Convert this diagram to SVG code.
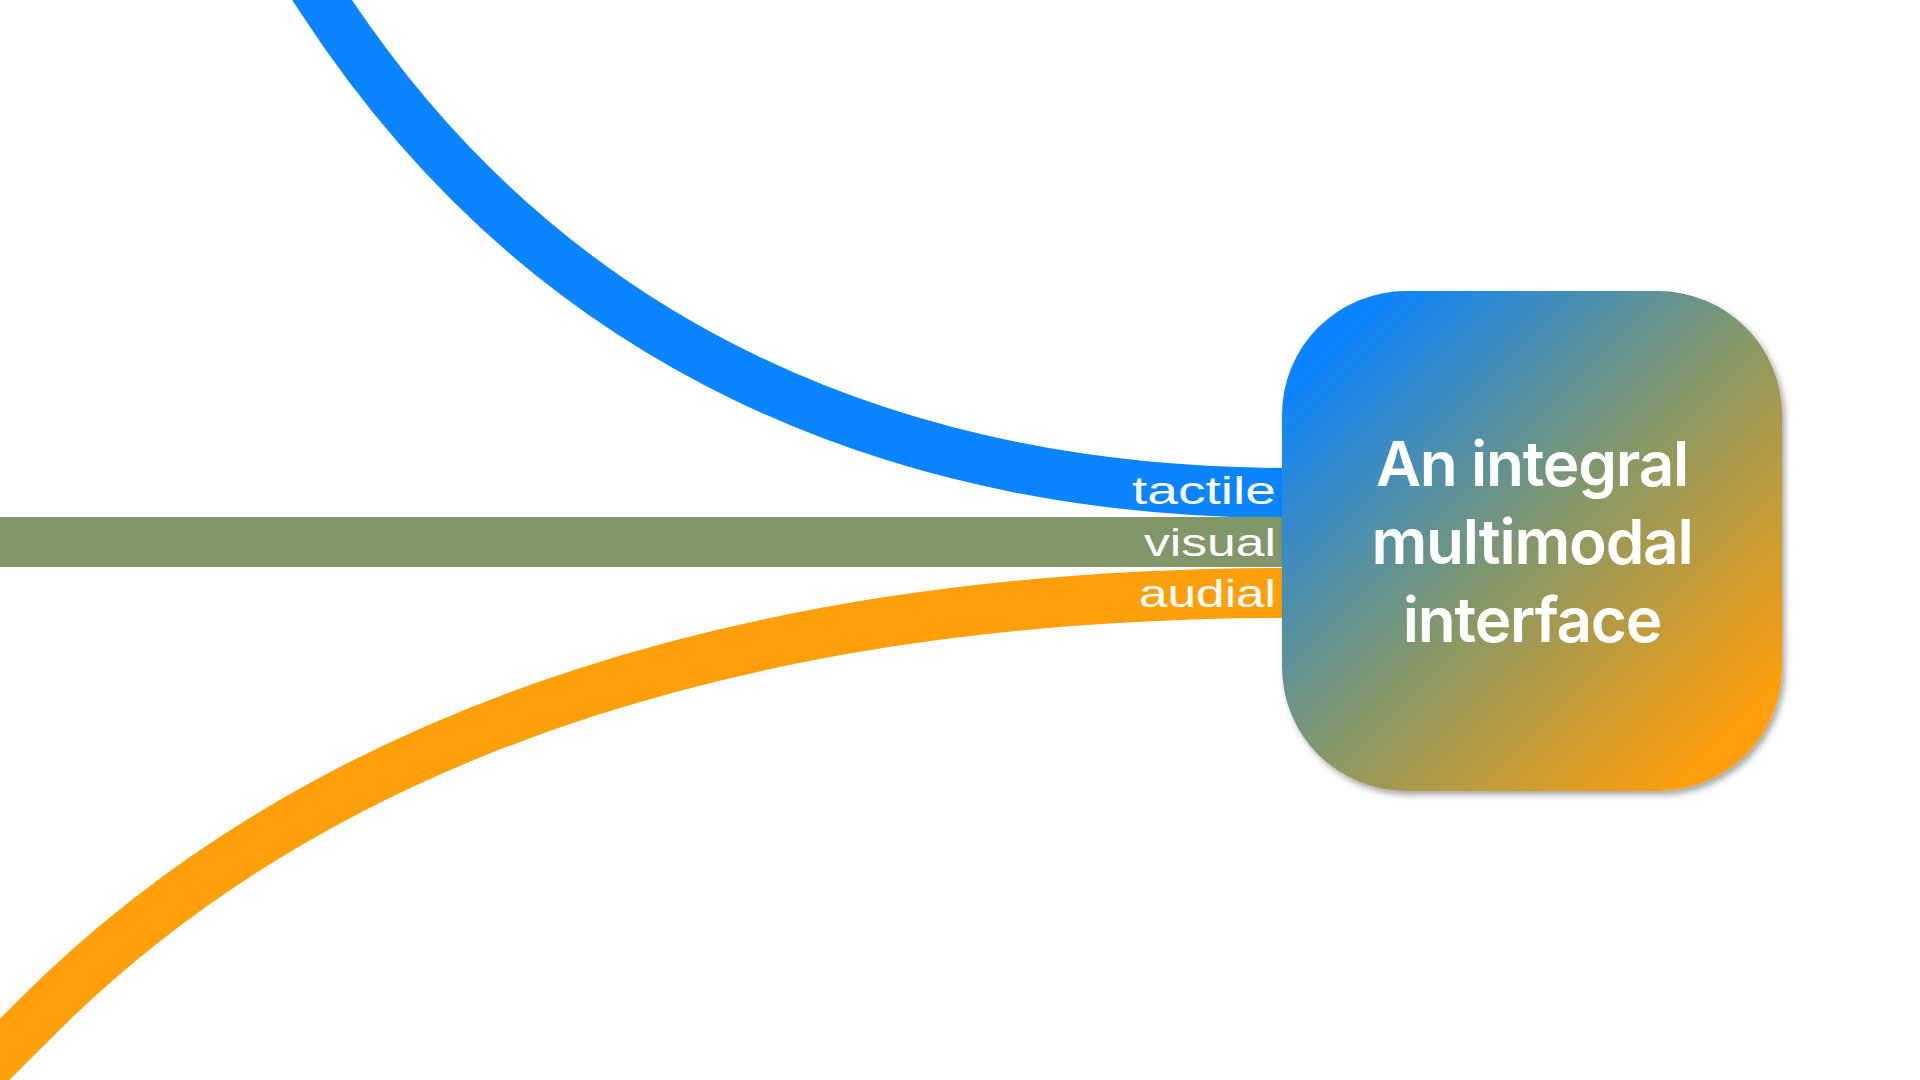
<svg xmlns="http://www.w3.org/2000/svg" width="1920" height="1080" viewBox="0 0 1920 1080">
  <defs>
    <linearGradient id="boxGrad" x1="0" y1="0" x2="1" y2="1">
      <stop offset="0.1" stop-color="#0A84FF"/>
      <stop offset="0.5" stop-color="#83986A"/>
      <stop offset="0.9" stop-color="#FF9F0A"/>
    </linearGradient>
    <filter id="shadow" x="-10%" y="-10%" width="125%" height="125%">
      <feDropShadow dx="3" dy="4" stdDeviation="3" flood-color="#000" flood-opacity="0.35"/>
    </filter>
  </defs>
  <style>
    .band { fill: none; stroke-width: 50; stroke-linecap: butt; }
    .label { font-family: "Liberation Sans", Arial, sans-serif; font-size: 39px; fill: #ffffff; text-anchor: end; }
    .title { font-family: Inter, "Noto Sans", sans-serif; font-weight: 600; font-size: 62px; letter-spacing: -1.2px; fill: #ffffff; text-anchor: middle; }
  </style>
  <rect width="1920" height="1080" fill="#ffffff"/>
  <g id="connectors">
    <path class="band" stroke="#0A84FF" d="M296,-40 L322,0 C550,350 900,493 1290,493"/>
    <path class="band" stroke="#81976A" d="M-10,542 L1290,542"/>
    <path class="band" stroke="#FF9F0A" d="M-60,1114 L37,1017 C337,717 782,593 1290,593"/>
  </g>
  <g id="labels">
    <text class="label" x="1276" y="504" textLength="144" lengthAdjust="spacingAndGlyphs">tactile</text>
    <text class="label" x="1276" y="556" textLength="132" lengthAdjust="spacingAndGlyphs">visual</text>
    <text class="label" x="1276" y="607" textLength="137" lengthAdjust="spacingAndGlyphs">audial</text>
  </g>
  <g id="interface">
    <rect x="1282" y="291" width="500" height="500" rx="124" ry="124" fill="url(#boxGrad)" filter="url(#shadow)"/>
    <text class="title" x="1532" y="486">An integral</text>
    <text class="title" x="1532" y="564">multimodal</text>
    <text class="title" x="1532" y="642">interface</text>
  </g>
</svg>
